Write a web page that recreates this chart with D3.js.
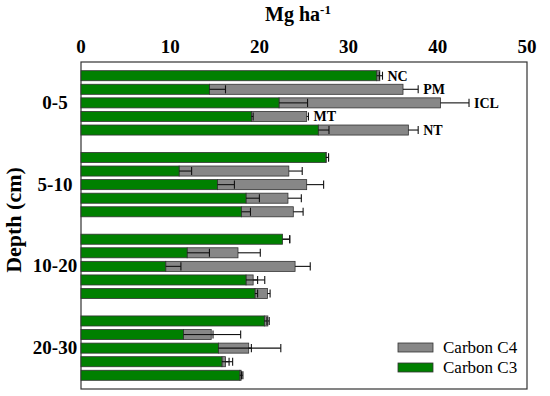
<!DOCTYPE html>
<html>
<head>
<meta charset="utf-8">
<script src="https://cdn.jsdelivr.net/npm/d3@7"></script>
<style>
  body { margin: 0; background: #fff; }
  svg text { font-family: "Liberation Serif", "Times New Roman", serif; fill: #000; }
</style>
</head>
<body>
<svg id="chart" width="550" height="396"></svg>
<script>
// depth groups and treatments (rows top to bottom inside each group)
var depths = ["0-5", "5-10", "10-20", "20-30"];
var treatments = ["NC", "PM", "ICL", "MT", "NT"];

// Mg ha-1, one row per depth, one value per treatment
var carbonC3 = [
  [33.15, 14.4, 22.2, 19.1, 26.6],
  [27.45, 11.0, 15.3, 18.5, 18.0],
  [22.6, 11.9, 9.5, 18.5, 19.5],
  [20.55, 11.5, 15.4, 15.8, 17.8]
];
var carbonC4 = [
  [0.35, 21.7, 18.1, 6.2, 10.1],
  [0.05, 12.3, 10.0, 4.7, 5.8],
  [0.0, 5.7, 14.5, 0.8, 1.4],
  [0.4, 3.1, 3.4, 0.4, 0.15]
];
var errC3 = [
  [0.3, 1.8, 3.2, 0.2, 1.2],
  [0.3, 1.4, 1.9, 1.5, 1.0],
  [0.8, 2.5, 1.7, 1.3, 0.3],
  [0.3, 3.3, 3.7, 0.8, 0.2]
];
var errC4 = [
  [0.3, 1.7, 3.2, 0.2, 1.1],
  [0.25, 1.5, 1.9, 1.5, 1.1],
  [0.8, 2.5, 1.7, 1.3, 0.3],
  [0.15, 3.3, 3.6, 0.8, 0.2]
];
var xTicks = [0, 10, 20, 30, 40, 50];

var green = "#008000", grey = "#878787";

var svg = d3.select("#chart");
var pLeft = 81, pRight = 527, pTop = 62, pBottom = 389;

var x = d3.scaleLinear().domain([0, 50]).range([pLeft, pRight]);
var yGroup = d3.scaleBand().domain(depths).range([pTop, pBottom]);
var yBar = d3.scaleBand().domain(treatments)
  .range([0, yGroup.bandwidth()])
  .paddingInner(0.26).paddingOuter(0.64);

// flatten into rows
var rows = [];
depths.forEach(function(d, i) {
  treatments.forEach(function(t, j) {
    rows.push({
      depth: d, trt: t, first: i === 0,
      c3: carbonC3[i][j], c4: carbonC4[i][j],
      e3: errC3[i][j], e4: errC4[i][j]
    });
  });
});

function yPos(r) { return yGroup(r.depth) + yBar(r.trt); }
var bh = yBar.bandwidth();

// frame
svg.append("rect")
  .attr("x", pLeft).attr("y", pTop)
  .attr("width", pRight - pLeft).attr("height", pBottom - pTop)
  .attr("fill", "none").attr("stroke", "#333").attr("stroke-width", 1.2);

// top axis labels (no tick marks)
svg.append("g").selectAll("text")
  .data(xTicks).enter().append("text")
  .attr("x", function(d) { return x(d); })
  .attr("y", 53)
  .attr("text-anchor", "middle")
  .attr("font-size", 19).attr("font-weight", "bold")
  .text(function(d) { return d; });

// title
var title = svg.append("text")
  .attr("x", 298).attr("y", 21)
  .attr("text-anchor", "middle")
  .attr("font-size", 20).attr("font-weight", "bold");
title.append("tspan").text("Mg ha");
title.append("tspan").attr("font-size", 13).attr("dy", -7).text("-1");

// y axis title
svg.append("text")
  .attr("transform", "translate(21,220) rotate(-90)")
  .attr("text-anchor", "middle")
  .attr("font-size", 22).attr("font-weight", "bold")
  .text("Depth (cm)");

// depth labels
svg.append("g").selectAll("text")
  .data(depths).enter().append("text")
  .attr("x", 55)
  .attr("y", function(d) { return yGroup(d) + yGroup.bandwidth() / 2 + 6; })
  .attr("text-anchor", "middle")
  .attr("font-size", 19).attr("font-weight", "bold")
  .text(function(d) { return d; });

var bars = svg.append("g");

// C4 (grey) stacked after C3
bars.selectAll(".c4").data(rows).enter().append("rect")
  .attr("class", "c4")
  .attr("x", function(d) { return x(d.c3); })
  .attr("y", yPos)
  .attr("width", function(d) { return x(d.c3 + d.c4) - x(d.c3); })
  .attr("height", bh)
  .attr("fill", grey).attr("stroke", "#333").attr("stroke-width", 0.8);

// C3 (green)
bars.selectAll(".c3").data(rows).enter().append("rect")
  .attr("class", "c3")
  .attr("x", x(0))
  .attr("y", yPos)
  .attr("width", function(d) { return x(d.c3) - x(0); })
  .attr("height", bh)
  .attr("fill", green).attr("stroke", "#333").attr("stroke-width", 0.8);

// error bars (plus direction only)
function errBar(cls, start, len) {
  var g = svg.append("g").selectAll("." + cls).data(rows).enter().append("g")
    .attr("stroke", "#111").attr("stroke-width", 1.1);
  g.append("line")
    .attr("x1", function(d) { return x(start(d)); })
    .attr("x2", function(d) { return x(start(d) + len(d)); })
    .attr("y1", function(d) { return yPos(d) + bh / 2; })
    .attr("y2", function(d) { return yPos(d) + bh / 2; });
  g.append("line")
    .attr("x1", function(d) { return x(start(d) + len(d)); })
    .attr("x2", function(d) { return x(start(d) + len(d)); })
    .attr("y1", function(d) { return yPos(d) + 1; })
    .attr("y2", function(d) { return yPos(d) + bh - 1; });
}
errBar("e3", function(d) { return d.c3; }, function(d) { return d.e3; });
errBar("e4", function(d) { return d.c3 + d.c4; }, function(d) { return d.e4; });

// treatment labels on the first group
svg.append("g").selectAll("text")
  .data(rows.filter(function(r) { return r.first; })).enter().append("text")
  .attr("x", function(d) { return x(d.c3 + d.c4 + Math.max(d.e3 - d.c4, d.e4)) + 5; })
  .attr("y", function(d) { return yPos(d) + bh / 2 + 5; })
  .attr("font-size", 14).attr("font-weight", "bold")
  .text(function(d) { return d.trt; });

// legend
var legend = [
  { name: "Carbon C4", color: grey },
  { name: "Carbon C3", color: green }
];
var lg = svg.append("g").selectAll("g").data(legend).enter().append("g")
  .attr("transform", function(d, i) { return "translate(398," + (343 + i * 20) + ")"; });
lg.append("rect")
  .attr("width", 35).attr("height", 9)
  .attr("fill", function(d) { return d.color; })
  .attr("stroke", "#333").attr("stroke-width", 0.8);
lg.append("text")
  .attr("x", 45).attr("y", 10)
  .attr("font-size", 17)
  .text(function(d) { return d.name; });
</script>
</body>
</html>
